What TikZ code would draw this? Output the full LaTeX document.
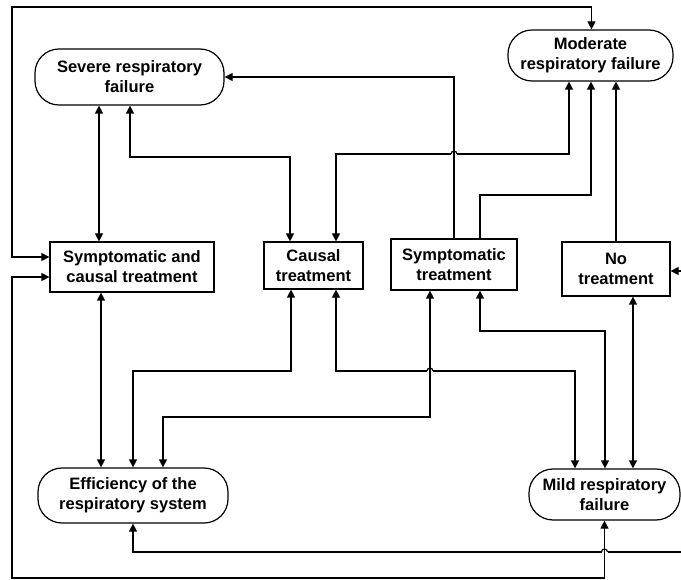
\documentclass[tikz,border=0pt]{standalone}
\usepackage{fontspec}
\setmainfont{Liberation Sans}
\usetikzlibrary{arrows.meta}

\begin{document}
\begin{tikzpicture}[x=1pt,y=-1pt,
  label text/.style={font=\bfseries\fontsize{16.5}{20}\selectfont, align=center, inner sep=0pt, line width=1.2pt},
  state/.style={label text, draw, rounded corners=24pt},
  action/.style={label text, draw},
  wire/.style={line width=1.2pt},
  link/.style={wire, -{Triangle[length=8pt,width=8pt]}},
  back/.style={wire, {Triangle[length=8pt,width=8pt]}-},
  both/.style={wire, {Triangle[length=8pt,width=8pt]}-{Triangle[length=8pt,width=8pt]}},
]
\useasboundingbox (0,0) rectangle (681,580);

% states of the respiratory system
\node[state, minimum width=189pt, minimum height=56pt] (severe) at (129.5,77) {Severe respiratory\\failure};
\node[state, minimum width=165pt, minimum height=51pt] (moderate) at (590.5,55.5) {Moderate\\respiratory failure};
\node[state, minimum width=190pt, minimum height=55pt] (effic) at (133,495.5) {Efficiency of the\\respiratory system};
\node[state, minimum width=151pt, minimum height=51pt] (mild) at (604.5,494.5) {Mild respiratory\\failure};

% treatments
\node[action, minimum width=164pt, minimum height=50pt] (symcaus) at (132,267) {Symptomatic and\\causal treatment};
\node[action, minimum width=99pt, minimum height=47pt] (causal) at (313.5,265.5) {Causal\\treatment};
\node[action, minimum width=126pt, minimum height=51pt] (symp) at (454,264.5) {Symptomatic\\treatment};
\node[action, minimum width=108pt, minimum height=54pt] (notreat) at (616,269) {No\\treatment};

% columns used by the vertical runs
\foreach \nm/\xx in {a/99, b/130, c/290, d/336, e/569, f/480, g/591, h/633, i/101, j/291, k/575, l/430, m/163, n/605}
  \coordinate (col-\nm) at (\xx,0);

% ends of the small hops over crossing lines
\coordinate (hop1-l) at (451,154);   \coordinate (hop1-r) at (457,154);
\coordinate (hop2-l) at (427,371);   \coordinate (hop2-r) at (433,371);
\coordinate (hop3-l) at (601.5,552); \coordinate (hop3-r) at (607.5,552);

% outer loops
\draw[both] ([yshift=10pt]symcaus.west) -| (12,7) -| ([xshift=1pt]moderate.north);
\draw[both] ([yshift=-10pt]symcaus.west) -| (12,578) -| (mild.south);
\coordinate (effin) at (681,552);
\draw[wire] (effin) -- (hop3-r);
\draw[wire] (hop3-r) arc[start angle=0,end angle=180,radius=3pt];
\draw[link] (hop3-l) -| (effic.south);
\coordinate (notin) at (681,271);
\draw[link] (notin) -- (notin -| notreat.east);

% upper connections
\draw[both] (severe.south -| col-a) -- (symcaus.north -| col-a);
\draw[both] (severe.south -| col-b) -- (130,157) -- (290,157) -- (causal.north -| col-c);
\draw[back] (causal.north -| col-d) |- (hop1-l);
\draw[wire] (hop1-l) arc[start angle=180,end angle=0,radius=3pt];
\draw[link] (hop1-r) -| (moderate.south -| col-e);
\draw[link] (symp.north) |- (severe.east);
\draw[link] (symp.north -| col-f) -- (480,195) -- (591,195) -- (moderate.south -| col-g);
\draw[link] (notreat.north) -- (moderate.south -| notreat.north);

% lower connections
\draw[both] (notreat.south -| col-h) -- (mild.north -| col-h);
\draw[both] (symcaus.south -| col-i) -- (effic.north -| col-i);
\draw[both] (causal.south -| col-j) -- (291,371) -- (133,371) -- (effic.north);
\draw[back] (causal.south -| col-d) |- (hop2-l);
\draw[wire] (hop2-l) arc[start angle=180,end angle=0,radius=3pt];
\draw[link] (hop2-r) -| (mild.north -| col-k);
\draw[both] (symp.south -| col-l) -- (430,417) -- (163,417) -- (effic.north -| col-m);
\draw[both] (symp.south -| col-f) -- (480,331) -- (605,331) -- (mild.north -| col-n);
\end{tikzpicture}
\end{document}
